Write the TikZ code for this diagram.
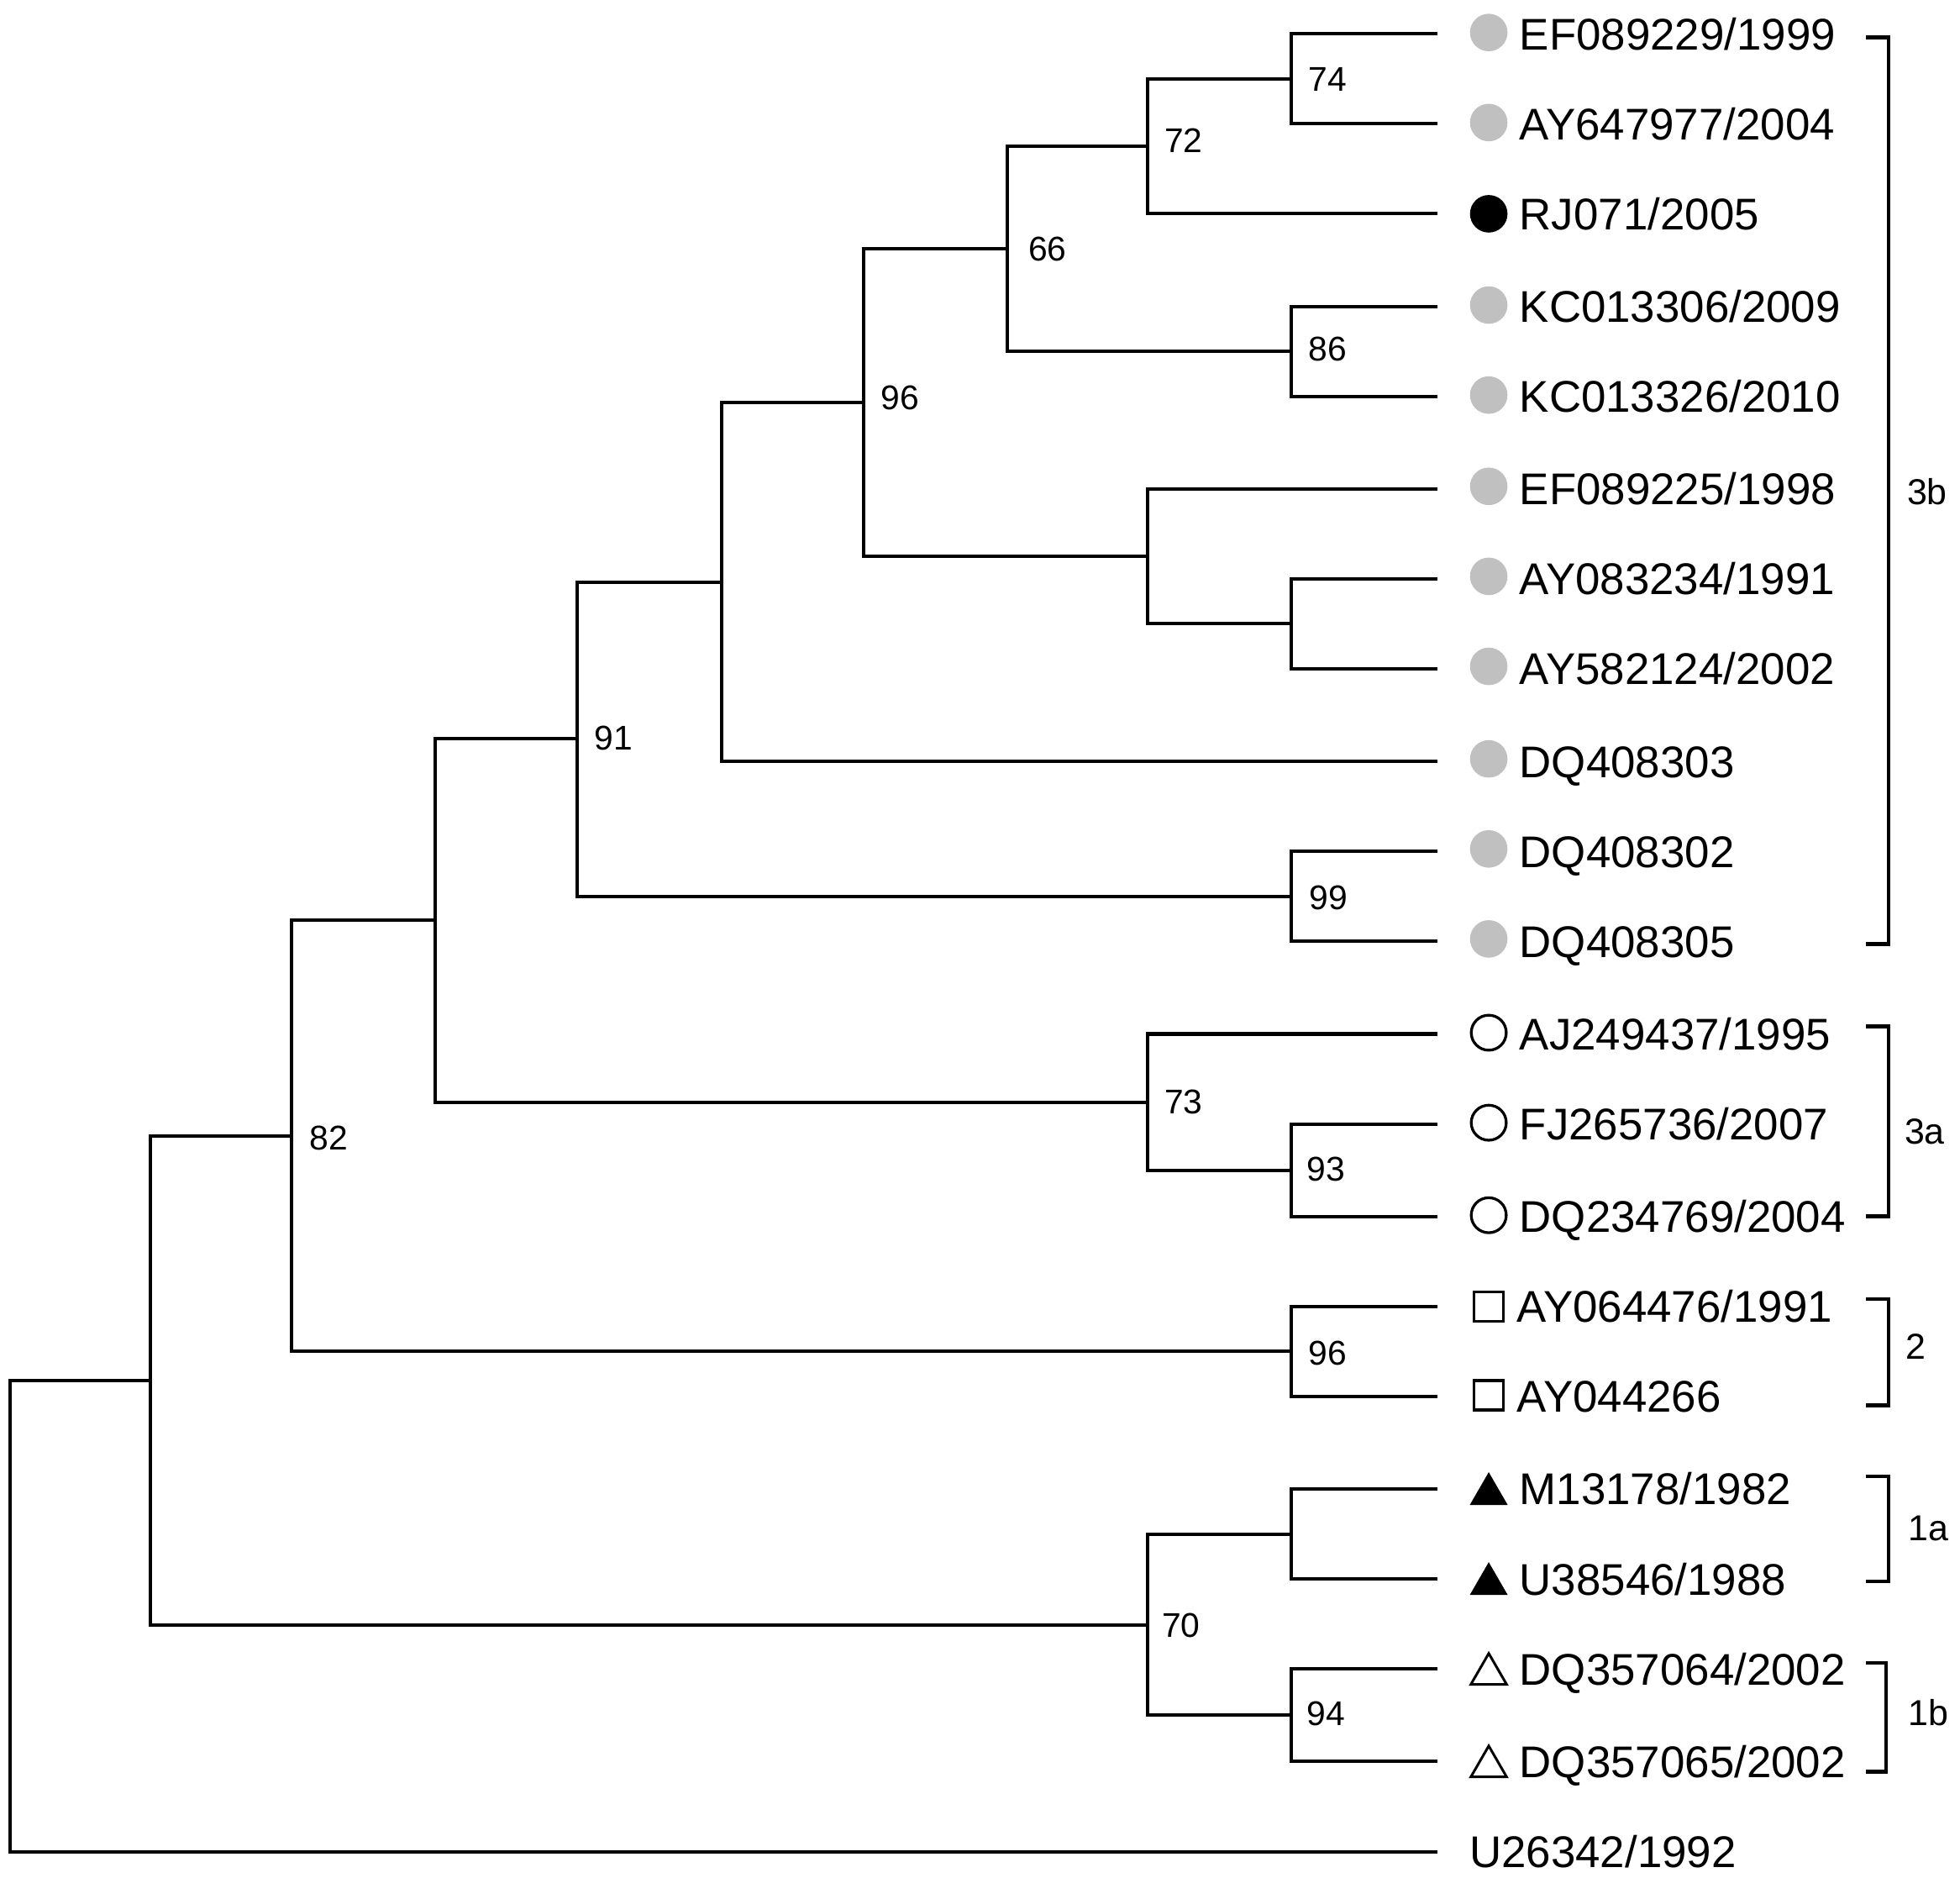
\documentclass[tikz,border=0pt]{standalone}
\usepackage{fontspec}
\setmainfont{Liberation Sans}
\usetikzlibrary{shapes.geometric}
\definecolor{symgray}{RGB}{192,192,192}
\begin{document}
\begin{tikzpicture}[x=0.01cm, y=-0.01cm,
  branch/.style={line width=0.027cm, line join=miter},
  bracket/.style={line width=0.03cm, line join=miter},
  leaflabel/.style={anchor=base west, inner sep=0pt, font=\fontsize{10.1pt}{12pt}\selectfont},
  boot/.style={anchor=base west, inner sep=0pt, font=\fontsize{7.8pt}{9pt}\selectfont},
  clade/.style={anchor=base west, inner sep=0pt, font=\fontsize{8.2pt}{10pt}\selectfont},
  graydot/.style={circle, fill=symgray, minimum size=0.30cm, inner sep=0pt},
  blackdot/.style={circle, fill=black, minimum size=0.30cm, inner sep=0pt},
  opendot/.style={circle, draw, line width=0.022cm, minimum size=0.28cm, inner sep=0pt},
  opensq/.style={rectangle, draw, line width=0.022cm, minimum size=0.235cm, inner sep=0pt},
  filltri/.style={regular polygon, regular polygon sides=3, fill=black, minimum size=0.35cm, inner sep=0pt},
  opentri/.style={regular polygon, regular polygon sides=3, draw, line width=0.02cm, minimum size=0.33cm, inner sep=0pt},
]
\useasboundingbox (0,0) rectangle (1568,1502);

% leaf tips
\coordinate (l0) at (1150,27);
\coordinate (l1) at (1150,99);
\coordinate (l2) at (1150,171);
\coordinate (l3) at (1150,245);
\coordinate (l4) at (1150,317);
\coordinate (l5) at (1150,391);
\coordinate (l6) at (1150,463);
\coordinate (l7) at (1150,535);
\coordinate (l8) at (1150,609);
\coordinate (l9) at (1150,681);
\coordinate (l10) at (1150,753);
\coordinate (l11) at (1150,827);
\coordinate (l12) at (1150,899);
\coordinate (l13) at (1150,973);
\coordinate (l14) at (1150,1045);
\coordinate (l15) at (1150,1117);
\coordinate (l16) at (1150,1191);
\coordinate (l17) at (1150,1263);
\coordinate (l18) at (1150,1335);
\coordinate (l19) at (1150,1409);
\coordinate (l20) at (1150,1481);

% internal nodes
\coordinate (n74) at (1033,63);
\coordinate (n72) at (918,117);
\coordinate (n86) at (1033,281);
\coordinate (n66) at (806,199);
\coordinate (nA) at (1033,499);
\coordinate (nB) at (918,445);
\coordinate (n96) at (691,322);
\coordinate (nC) at (577,465.5);
\coordinate (n99) at (1033,717);
\coordinate (n91) at (462,591);
\coordinate (n93) at (1033,936);
\coordinate (n73) at (918,881.5);
\coordinate (nD) at (348,736);
\coordinate (n96b) at (1033,1081);
\coordinate (n82) at (233,908.5);
\coordinate (n1a) at (1033,1227);
\coordinate (n94) at (1033,1372);
\coordinate (n70) at (918,1299.5);
\coordinate (nE) at (120,1104);
\coordinate (root) at (8,1292.5);

% branches
\draw[branch] (root) |- (nE);
\draw[branch] (root) |- (l20);
\draw[branch] (nE) |- (n82);
\draw[branch] (nE) |- (n70);
\draw[branch] (n82) |- (nD);
\draw[branch] (n82) |- (n96b);
\draw[branch] (nD) |- (n91);
\draw[branch] (nD) |- (n73);
\draw[branch] (n91) |- (nC);
\draw[branch] (n91) |- (n99);
\draw[branch] (nC) |- (n96);
\draw[branch] (nC) |- (l8);
\draw[branch] (n96) |- (n66);
\draw[branch] (n96) |- (nB);
\draw[branch] (n66) |- (n72);
\draw[branch] (n66) |- (n86);
\draw[branch] (n72) |- (n74);
\draw[branch] (n72) |- (l2);
\draw[branch] (n74) |- (l0);
\draw[branch] (n74) |- (l1);
\draw[branch] (n86) |- (l3);
\draw[branch] (n86) |- (l4);
\draw[branch] (nB) |- (l5);
\draw[branch] (nB) |- (nA);
\draw[branch] (nA) |- (l6);
\draw[branch] (nA) |- (l7);
\draw[branch] (n99) |- (l9);
\draw[branch] (n99) |- (l10);
\draw[branch] (n73) |- (l11);
\draw[branch] (n73) |- (n93);
\draw[branch] (n93) |- (l12);
\draw[branch] (n93) |- (l13);
\draw[branch] (n96b) |- (l14);
\draw[branch] (n96b) |- (l15);
\draw[branch] (n70) |- (n1a);
\draw[branch] (n70) |- (n94);
\draw[branch] (n1a) |- (l16);
\draw[branch] (n1a) |- (l17);
\draw[branch] (n94) |- (l18);
\draw[branch] (n94) |- (l19);

% bootstrap values
\node[boot] (b74) at (1046,72.8) {74};
\node[boot] (b72) at (931,121.8) {72};
\node[boot] (b66) at (822,208.8) {66};
\node[boot] (b86) at (1046,288.8) {86};
\node[boot] (b96) at (704,327.8) {96};
\node[boot] (b91) at (475,599.8) {91};
\node[boot] (b99) at (1047,727.8) {99};
\node[boot] (b73) at (931,890.8) {73};
\node[boot] (b93) at (1045,944.8) {93};
\node[boot] (b82) at (247,919.8) {82};
\node[boot] (b96b) at (1046,1091.8) {96};
\node[boot] (b70) at (929,1309.8) {70};
\node[boot] (b94) at (1045,1379.8) {94};

% symbols
\node[graydot] (s0) at (1191,26) {};
\node[graydot] (s1) at (1191,98) {};
\node[blackdot] (s2) at (1191,171) {};
\node[graydot] (s3) at (1191,244) {};
\node[graydot] (s4) at (1191,316) {};
\node[graydot] (s5) at (1191,389) {};
\node[graydot] (s6) at (1191,461) {};
\node[graydot] (s7) at (1191,533) {};
\node[graydot] (s8) at (1191,607) {};
\node[graydot] (s9) at (1191,679) {};
\node[graydot] (s10) at (1191,751) {};
\node[opendot] (s11) at (1191,826) {};
\node[opendot] (s12) at (1191,898) {};
\node[opendot] (s13) at (1191,972) {};
\node[opensq] (s14) at (1191,1045) {};
\node[opensq] (s15) at (1191,1116) {};
\node[filltri] (s16) at (1191,1195) {};
\node[filltri] (s17) at (1191,1267) {};
\node[opentri] (s18) at (1191,1339) {};
\node[opentri] (s19) at (1191,1413) {};

% leaf labels
\node[leaflabel] (t0) at (1215,39.7) {EF089229/1999};
\node[leaflabel] (t1) at (1215,111.7) {AY647977/2004};
\node[leaflabel] (t2) at (1215,183.7) {RJ071/2005};
\node[leaflabel] (t3) at (1215,257.7) {KC013306/2009};
\node[leaflabel] (t4) at (1215,329.7) {KC013326/2010};
\node[leaflabel] (t5) at (1215,403.7) {EF089225/1998};
\node[leaflabel] (t6) at (1215,475.7) {AY083234/1991};
\node[leaflabel] (t7) at (1215,547.7) {AY582124/2002};
\node[leaflabel] (t8) at (1215,621.7) {DQ408303};
\node[leaflabel] (t9) at (1215,693.7) {DQ408302};
\node[leaflabel] (t10) at (1215,765.7) {DQ408305};
\node[leaflabel] (t11) at (1215,839.7) {AJ249437/1995};
\node[leaflabel] (t12) at (1215,911.7) {FJ265736/2007};
\node[leaflabel] (t13) at (1215,985.7) {DQ234769/2004};
\node[leaflabel] (t14) at (1213,1057.7) {AY064476/1991};
\node[leaflabel] (t15) at (1213,1129.7) {AY044266};
\node[leaflabel] (t16) at (1215,1203.7) {M13178/1982};
\node[leaflabel] (t17) at (1215,1275.7) {U38546/1988};
\node[leaflabel] (t18) at (1215,1347.7) {DQ357064/2002};
\node[leaflabel] (t19) at (1215,1421.7) {DQ357065/2002};
\node[leaflabel] (t20) at (1175,1493.7) {U26342/1992};

% clade brackets
\draw[bracket] (1493,30) -- (1511,30) -- (1511,755) -- (1493,755);
\draw[bracket] (1493,821) -- (1511,821) -- (1511,973) -- (1493,973);
\draw[bracket] (1493,1039) -- (1511,1039) -- (1511,1124) -- (1493,1124);
\draw[bracket] (1493,1181) -- (1511,1181) -- (1511,1265) -- (1493,1265);
\draw[bracket] (1493,1330) -- (1509,1330) -- (1509,1417) -- (1493,1417);

\node[clade] (c3b) at (1525,403.3) {3b};
\node[clade] (c3a) at (1523,915.3) {3a};
\node[clade] (c2) at (1524,1087.3) {2};
\node[clade] (c1a) at (1526,1232.3) {1a};
\node[clade] (c1b) at (1526,1380.3) {1b};
\end{tikzpicture}
\end{document}
